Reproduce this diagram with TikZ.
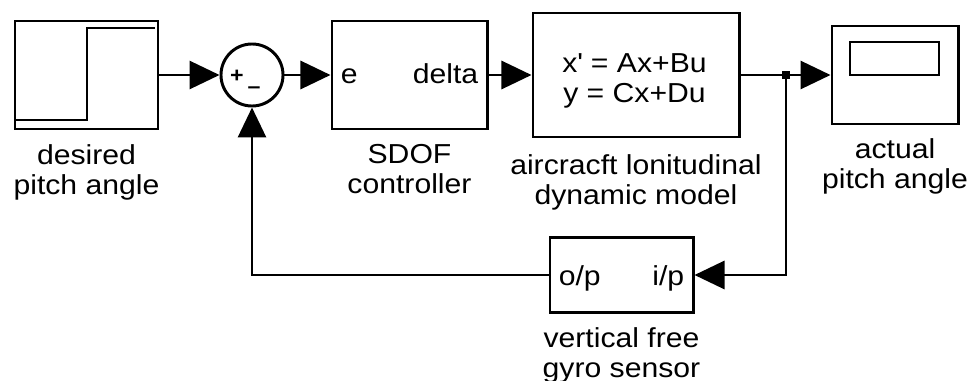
\documentclass[tikz,border=0pt]{standalone}
\usepackage{fontspec}
\setmainfont{Liberation Sans}[FakeStretch=1.1]
\usetikzlibrary{positioning,arrows.meta,calc}

\begin{document}
\begin{tikzpicture}[
      x=0.025cm, y=-0.025cm,
      font=\fontsize{19.5}{21.3}\selectfont,
      blk/.style={draw, line width=2.1pt, inner sep=0pt},
      lbl/.style={inner sep=0pt, align=center},
      port/.style={inner sep=0pt},
      wire/.style={line width=2.1pt},
      sig/.style={wire, -{Triangle[length=0.75cm,width=0.7cm]}},
      sgn/.style={inner sep=0pt, font=\fontsize{15}{15}\selectfont\bfseries}
    ]
    \useasboundingbox (0,0) rectangle (973,381);
    % ------------- forward path -------------
    \node[blk, minimum width=3.575cm, minimum height=2.7cm] (src) at (86.5,75) {};
    \draw[line width=1.8pt] (15,120) -- (87,120) -- (87,28) -- (155,28);
    \node[lbl, below=0.35cm of src] (srclbl) {desired\\pitch angle};

    \node[draw, circle, line width=2.1pt, minimum size=1.55cm, inner sep=0pt] (sum) at (252,75) {};
    \node[sgn] (plus) at (237,76) {+};
    \node[sgn] (minus) at (254,90) {–};

    \node[blk, minimum width=3.875cm, minimum height=2.7cm] (ctrl) at (409.5,75) {};
    \node[port, anchor=base west] (ein) at ($(ctrl.west)+(10,8)$) {e};
    \node[port, anchor=base east] (dout) at ($(ctrl.east)+(-10,8)$) {delta};
    \node[lbl, below=0.35cm of ctrl] (ctrllbl) {SDOF\\controller};

    \node[blk, minimum width=5.15cm, minimum height=3.1cm] (model) at (636,75) {};
    \node[lbl, anchor=north, font=\fontsize{19.5}{21.8}\selectfont] (eqs) at (634.5,53) {x\textquotesingle{} = Ax+Bu\\y = Cx+Du};
    \node[lbl, below=0.4cm of model] (modellbl) {aircracft lonitudinal\\dynamic model};

    \node[fill, minimum size=0.18cm, inner sep=0pt] (tap) at (786,75) {};

    \node[blk, minimum width=3.15cm, minimum height=2.45cm] (scope) at (895,75) {};
    \draw[line width=2.1pt] (850,42) rectangle (939,75);
    \node[lbl, below=0.33cm of scope] (scopelbl) {actual\\pitch angle};

    % ------------- feedback path -------------
    \node[blk, minimum width=3.575cm, minimum height=1.875cm] (gyro) at (621.5,275) {};
    \node[port, anchor=base west] (opout) at ($(gyro.west)+(10,10)$) {o/p};
    \node[port, anchor=base east] (ipin) at ($(gyro.east)+(-10,10)$) {i/p};
    \node[lbl, below=0.33cm of gyro] (gyrolbl) {vertical free\\gyro sensor};

    % ------------- connectors -------------
    \draw[sig] (src) -- (sum);
    \draw[sig] (sum) -- (ctrl);
    \draw[sig] (ctrl) -- (model);
    \draw[wire] (model) -- (tap);
    \draw[sig] (tap) -- (scope);
    \draw[sig] (tap) |- (gyro);
    \draw[sig] (gyro) -| (sum);
  \end{tikzpicture}
\end{document}
